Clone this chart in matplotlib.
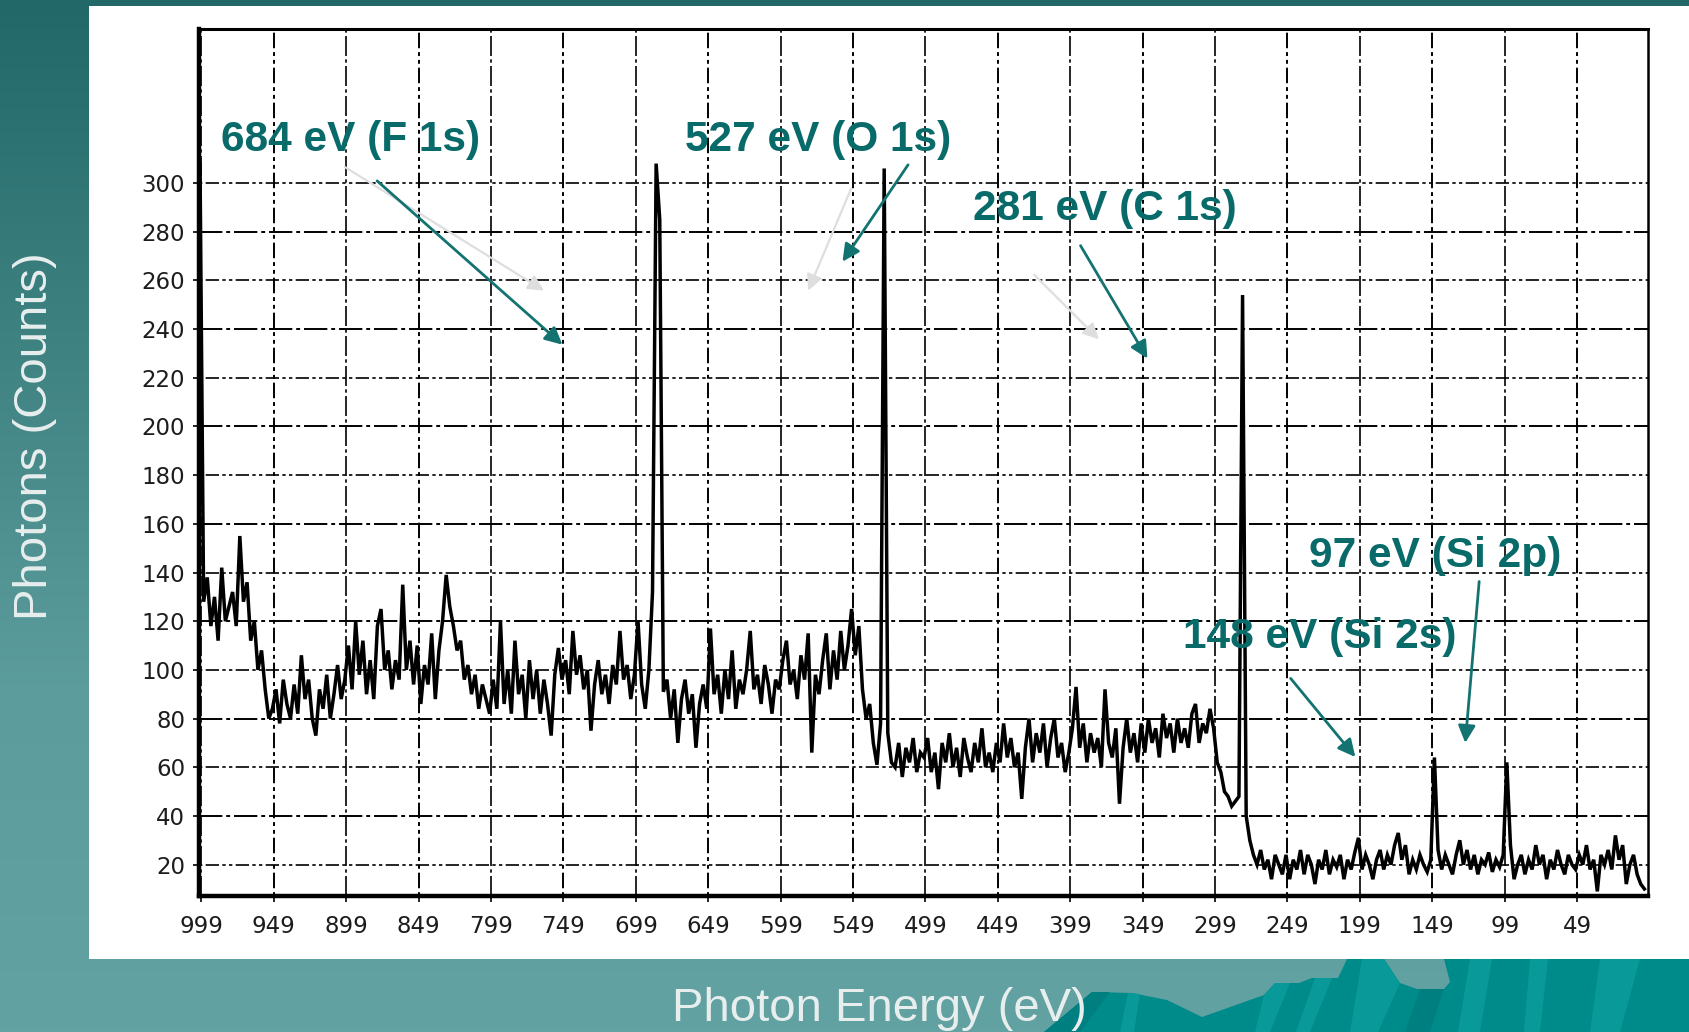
import numpy as np
import matplotlib
matplotlib.use('Agg')
import matplotlib.pyplot as plt
from matplotlib.patches import Polygon, Rectangle
from matplotlib.colors import LinearSegmentedColormap

# ---------------- data (counts, 2.5 eV spacing) ----------------
energy_start = 1000.0
energy_step = 2.5

counts_1000 = [308, 128, 138, 118, 130, 112, 142, 120, 126, 132, 118, 155, 128, 136, 112, 120, 100, 108, 92, 80]
counts_950 = [84, 92, 78, 96, 86, 80, 94, 82, 106, 88, 96, 80, 73, 92, 84, 98, 80, 90, 102, 88]
counts_900 = [96, 110, 92, 120, 98, 112, 90, 104, 88, 118, 125, 100, 108, 92, 104, 96, 135, 100, 112, 94]
counts_850 = [110, 86, 102, 94, 115, 88, 108, 120, 139, 126, 118, 108, 112, 96, 102, 90, 98, 84, 94, 88]
counts_800 = [82, 96, 84, 120, 86, 100, 82, 112, 90, 98, 80, 104, 88, 100, 82, 96, 86, 73, 98, 109]
counts_750 = [96, 104, 90, 116, 98, 106, 92, 100, 75, 94, 104, 90, 98, 86, 102, 94, 116, 96, 102, 88]
counts_700 = [98, 120, 94, 84, 100, 132, 308, 285, 91, 96, 80, 92, 70, 88, 96, 82, 90, 68, 86, 94]
counts_650 = [84, 117, 90, 98, 82, 100, 88, 108, 84, 96, 90, 100, 116, 92, 98, 86, 102, 94, 82, 96]
counts_600 = [92, 104, 112, 94, 100, 88, 106, 96, 115, 66, 98, 90, 104, 115, 92, 108, 96, 116, 100, 110]
counts_550 = [125, 106, 118, 92, 80, 86, 70, 61, 78, 306, 74, 62, 60, 70, 56, 68, 62, 72, 58, 66]
counts_500 = [64, 72, 58, 66, 51, 70, 62, 74, 60, 68, 56, 72, 64, 58, 70, 62, 76, 60, 66, 58]
counts_450 = [70, 62, 78, 64, 72, 60, 66, 47, 68, 80, 62, 74, 66, 78, 60, 72, 80, 64, 70, 58]
counts_400 = [66, 76, 93, 68, 78, 62, 74, 66, 72, 60, 92, 70, 64, 76, 45, 68, 80, 66, 74, 62]
counts_350 = [78, 66, 80, 70, 76, 64, 82, 72, 78, 66, 80, 70, 76, 68, 82, 86, 70, 78, 74, 84]
counts_300 = [76, 62, 58, 50, 48, 44, 46, 48, 254, 40, 30, 24, 20, 26, 18, 22, 14, 24, 20, 16]
counts_250 = [24, 14, 22, 18, 26, 16, 24, 20, 12, 22, 18, 26, 16, 22, 19, 24, 14, 22, 18, 25]
counts_200 = [31, 18, 24, 20, 14, 22, 26, 18, 24, 20, 28, 33, 22, 28, 16, 22, 18, 24, 20, 17]
counts_150 = [22, 64, 26, 18, 24, 20, 16, 24, 30, 20, 26, 18, 24, 16, 22, 20, 25, 17, 22, 19]
counts_100 = [24, 62, 28, 14, 20, 24, 16, 22, 18, 28, 20, 24, 14, 22, 18, 26, 20, 16, 24, 20]
counts_50 = [18, 24, 20, 28, 18, 22, 9, 24, 20, 26, 18, 32, 22, 28, 12, 20, 24, 16, 12, 10]

x_ticks = [999, 949, 899, 849, 799, 749, 699, 649, 599, 549, 499, 449, 399, 349, 299, 249, 199, 149, 99, 49]
y_ticks = [20, 40, 60, 80, 100, 120, 140, 160, 180, 200, 220, 240, 260, 280, 300]

labels = ['684 eV (F 1s)', '527 eV (O 1s)', '281 eV (C 1s)', '97 eV (Si 2p)', '148 eV (Si 2s)']
label_pos = [(985.6, 317.5), (665.0, 317.5), (466.3, 289.5), (234.0, 146.8), (321.2, 113.5)]
arrow_from = [(877.7, 300.9), (511.0, 307.5), (391.9, 274.3), (116.6, 136.3), (246.8, 96.5)]
arrow_to = [(749.7, 233.6), (556.3, 267.7), (345.7, 227.9), (126.2, 70.0), (202.1, 64.2)]
ghost_from = [(900.0, 306.6), (550.3, 297.8), (424.0, 262.4)]
ghost_to = [(762.4, 255.8), (580.0, 255.8), (379.2, 235.8)]

counts = np.array(counts_1000 + counts_950 + counts_900 + counts_850 + counts_800 +
                  counts_750 + counts_700 + counts_650 + counts_600 + counts_550 +
                  counts_500 + counts_450 + counts_400 + counts_350 + counts_300 +
                  counts_250 + counts_200 + counts_150 + counts_100 + counts_50, dtype=float)
energy = energy_start - energy_step * np.arange(len(counts))

# ---------------- figure ----------------
W, H = 1689, 1032
fig = plt.figure(figsize=(W / 100, H / 100), dpi=100)

bg = fig.add_axes([0, 0, 1, 1])
bg.set_axis_off()
bg.set_xlim(0, W)
bg.set_ylim(H, 0)
cmap = LinearSegmentedColormap.from_list('bg', ['#226868', '#3f8282', '#5c9c9c', '#62a2a2'])
bg.imshow(np.linspace(0, 1, 256)[:, None], aspect='auto', cmap=cmap,
          extent=[0, W, H, 0], origin='upper', zorder=0)
# white slide panel
bg.add_patch(Rectangle((89, 6), W - 89, 959 - 6, facecolor='white', edgecolor='none', zorder=1))
# decorative wave at bottom right
wave = [(1044, 1032), (1092, 992), (1132, 993), (1167, 1000), (1202, 1017), (1264, 995),
        (1275, 983), (1299, 983), (1312, 978), (1338, 978), (1347, 959), (1384, 959),
        (1400, 983), (1417, 989), (1444, 989), (1450, 982), (1444, 959), (W, 959), (W, 1032)]
bg.add_patch(Polygon(wave, closed=True, facecolor='#008b8b', edgecolor='none', zorder=1))
stripes = [
    [(1120, 1032), (1128, 993), (1140, 994), (1134, 1032)],
    [(1264, 995), (1275, 983), (1290, 983), (1270, 1032), (1255, 1032)],
    [(1315, 978), (1332, 978), (1310, 1032), (1296, 1032)],
    [(1362, 959), (1384, 959), (1400, 983), (1378, 1032), (1350, 1032)],
    [(1470, 959), (1492, 959), (1480, 1032), (1458, 1032)],
    [(1530, 959), (1548, 959), (1540, 1032), (1524, 1032)],
    [(1600, 959), (1640, 959), (1620, 1032), (1590, 1032)],
]
for s in stripes:
    bg.add_patch(Polygon(s, closed=True, facecolor='#0a9999', edgecolor='none', zorder=1))
dark = [[(1044, 1032), (1092, 992), (1110, 992), (1080, 1032)],
        [(1420, 989), (1444, 989), (1430, 1032), (1405, 1032)]]
for s in dark:
    bg.add_patch(Polygon(s, closed=True, facecolor='#007f80', edgecolor='none', zorder=1))

# ---------------- main axes ----------------
ax = fig.add_axes([199 / W, 1 - 896 / H, (1648 - 199) / W, (896 - 29) / H])
ax.set_facecolor('white')
ax.set_xlim(1000.7, 0)
ax.set_ylim(7.1, 363.3)

styles = [(0, (12, 2, 2, 2)), (0, (2, 2, 8, 2, 2, 2))]
for i, xt in enumerate(x_ticks):
    ax.axvline(xt, color='black', lw=1.4 if i % 2 else 1.2, ls=styles[i % 2], zorder=1)
for i, yt in enumerate(y_ticks):
    ax.axhline(yt, color='black', lw=1.4 if i % 2 else 1.2, ls=styles[(i + 1) % 2], zorder=1)

ax.plot(energy, counts, color='black', lw=2.5, solid_joinstyle='miter', zorder=3)

ax.set_xticks(x_ticks)
ax.set_yticks(y_ticks)
ax.tick_params(axis='both', labelsize=16.5, length=4, width=1.2, color='black', labelcolor='#1c1c1c')
ax.tick_params(axis='x', pad=10)
ax.tick_params(axis='y', pad=6)

ax.spines['left'].set_linewidth(3.2)
ax.spines['bottom'].set_linewidth(3.2)
ax.spines['top'].set_linewidth(2.2)
ax.spines['right'].set_linewidth(1.8)

teal = '#086b69'
for (x0, y0), (x1, y1) in zip(ghost_from, ghost_to):
    ax.annotate('', xy=(x1, y1), xytext=(x0, y0),
                arrowprops=dict(arrowstyle='-|>', mutation_scale=24, lw=1.6,
                                color='#dedede', shrinkA=0, shrinkB=0), zorder=2)
for (x0, y0), (x1, y1) in zip(arrow_from, arrow_to):
    ax.annotate('', xy=(x1, y1), xytext=(x0, y0),
                arrowprops=dict(arrowstyle='-|>', mutation_scale=26, lw=2.0,
                                color='#137371', shrinkA=0, shrinkB=0), zorder=5)
for txt, (tx, ty) in zip(labels, label_pos):
    ax.text(tx, ty, txt, ha='left', va='center', fontsize=30.5, fontweight='bold',
            family='Liberation Sans', color=teal, zorder=6)

# ---------------- axis titles on the slide ----------------
fig.text(879 / W, 1 - 1021 / H, 'Photon Energy (eV)', ha='center', va='baseline',
         fontsize=34, color='#e8eeee', family='Liberation Sans')
fig.text(35 / W, 1 - 436 / H, 'Photons (Counts)', rotation=90, ha='center', va='center',
         fontsize=34, color='#e8eeee', family='Liberation Sans')

fig.savefig('out.png', dpi=100)
